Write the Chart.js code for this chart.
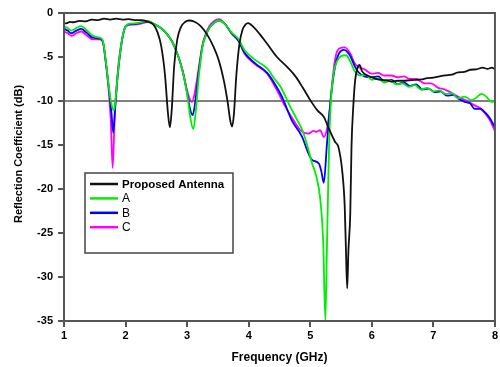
<!DOCTYPE html>
<html>
<head>
<meta charset="utf-8">
<script src="https://cdn.jsdelivr.net/npm/chart.js@4"></script>
<style>
  html, body { margin: 0; padding: 0; background: #fff; }
  canvas { display: block; }
</style>
</head>
<body>
<canvas id="s11" width="500" height="367"></canvas>
<script>
// series data: frequency (GHz) and reflection coefficient (dB)
var propFreq = [1.00, 1.05, 1.10, 1.15, 1.25, 1.35, 1.45, 1.55, 1.65, 1.75, 1.85, 1.95, 2.05, 2.15, 2.25, 2.35, 2.45, 2.52, 2.58, 2.64, 2.69, 2.72, 2.75, 2.79, 2.84, 2.90, 2.97, 3.03, 3.12, 3.22, 3.32, 3.42, 3.52, 3.60, 3.66, 3.70, 3.73, 3.76, 3.80, 3.85, 3.90, 3.95, 3.99, 4.08, 4.18, 4.30, 4.46, 4.62, 4.76, 4.88, 5.00, 5.12, 5.22, 5.30, 5.40, 5.46, 5.52, 5.56, 5.58, 5.60, 5.62, 5.65, 5.67, 5.70, 5.73, 5.77, 5.80, 5.84, 5.90, 6.00, 6.05, 6.15, 6.25, 6.32, 6.42, 6.52, 6.60, 6.70, 6.80, 6.90, 7.00, 7.10, 7.19, 7.30, 7.40, 7.50, 7.60, 7.70, 7.80, 7.88, 7.95, 8.00];
var propS11 = [-1.2, -1.15, -1.0, -1.05, -0.9, -0.95, -0.75, -0.8, -0.65, -0.75, -0.65, -0.75, -0.7, -0.8, -0.8, -0.95, -1.3, -2.2, -3.8, -7.0, -11.5, -13.0, -11.0, -6.0, -3.0, -1.6, -1.0, -0.85, -1.0, -1.5, -2.4, -3.7, -5.5, -7.8, -10.2, -12.2, -12.9, -11.5, -7.0, -3.5, -1.9, -1.3, -1.15, -1.6, -2.4, -3.5, -5.0, -6.1, -7.2, -8.5, -9.9, -11.1, -11.8, -13.1, -14.6, -15.3, -18.0, -22.0, -27.0, -31.3, -27.0, -22.8, -15.2, -10.5, -7.6, -6.2, -5.9, -6.6, -7.0, -7.3, -7.45, -7.6, -7.65, -7.8, -7.7, -7.7, -7.65, -7.6, -7.55, -7.4, -7.35, -7.2, -7.1, -7.0, -6.75, -6.7, -6.45, -6.4, -6.2, -6.35, -6.2, -6.4];

var aFreq = [1.00, 1.06, 1.12, 1.20, 1.28, 1.36, 1.47, 1.58, 1.63, 1.68, 1.73, 1.77, 1.81, 1.84, 1.88, 1.93, 2.00, 2.08, 2.18, 2.28, 2.36, 2.45, 2.55, 2.65, 2.76, 2.85, 2.93, 3.00, 3.05, 3.10, 3.14, 3.19, 3.25, 3.30, 3.36, 3.44, 3.52, 3.62, 3.72, 3.84, 3.93, 4.10, 4.30, 4.42, 4.52, 4.65, 4.79, 4.87, 4.95, 5.03, 5.10, 5.16, 5.21, 5.245, 5.27, 5.29, 5.31, 5.34, 5.38, 5.44, 5.50, 5.58, 5.65, 5.72, 5.81, 5.90, 6.00, 6.10, 6.20, 6.30, 6.40, 6.50, 6.60, 6.70, 6.80, 6.90, 7.00, 7.10, 7.20, 7.30, 7.40, 7.50, 7.62, 7.70, 7.78, 7.86, 7.94, 8.00];
var aS11 = [-1.5, -1.7, -2.0, -1.7, -1.5, -1.9, -2.6, -2.8, -3.1, -5.5, -8.5, -10.3, -11.1, -9.6, -6.5, -3.6, -1.5, -1.2, -1.15, -1.0, -0.9, -1.2, -1.6, -2.2, -3.3, -4.8, -6.7, -9.2, -11.8, -13.2, -11.2, -7.2, -3.8, -2.6, -1.7, -1.1, -0.85, -1.3, -2.2, -3.0, -4.2, -5.3, -6.3, -7.5, -8.4, -10.3, -12.2, -13.3, -15.0, -17.1, -18.6, -21.0, -26.0, -34.9, -27.0, -20.0, -14.0, -9.5, -6.8, -5.4, -4.9, -4.8, -5.5, -6.6, -7.1, -7.0, -7.6, -7.4, -7.9, -7.7, -8.1, -8.0, -8.4, -8.2, -8.7, -8.5, -8.9, -8.8, -9.2, -9.1, -9.7, -9.5, -9.9, -9.6, -9.2, -9.5, -10.1, -10.0];

var bFreq = [1.00, 1.06, 1.12, 1.20, 1.28, 1.36, 1.47, 1.58, 1.63, 1.68, 1.73, 1.77, 1.80, 1.83, 1.87, 1.93, 2.00, 2.08, 2.18, 2.28, 2.36, 2.45, 2.55, 2.65, 2.76, 2.85, 2.93, 3.00, 3.05, 3.09, 3.13, 3.19, 3.25, 3.30, 3.36, 3.44, 3.52, 3.62, 3.72, 3.84, 3.93, 4.10, 4.30, 4.42, 4.54, 4.70, 4.87, 4.95, 5.03, 5.14, 5.18, 5.22, 5.27, 5.33, 5.40, 5.46, 5.55, 5.65, 5.72, 5.78, 5.88, 6.00, 6.10, 6.20, 6.32, 6.42, 6.52, 6.62, 6.72, 6.82, 6.92, 7.02, 7.12, 7.22, 7.32, 7.42, 7.51, 7.60, 7.67, 7.76, 7.84, 7.92, 8.00];
var bS11 = [-1.8, -2.0, -2.3, -2.0, -1.8, -2.2, -2.8, -2.9, -3.2, -5.6, -8.6, -11.3, -13.6, -10.8, -7.3, -3.7, -1.5, -1.25, -1.2, -1.05, -0.95, -1.2, -1.6, -2.2, -3.3, -4.8, -6.7, -9.1, -11.0, -11.6, -10.2, -6.6, -3.7, -2.6, -1.7, -1.1, -0.85, -1.3, -2.3, -3.2, -4.5, -5.7, -6.8, -8.0, -9.5, -12.2, -14.1, -15.6, -16.7, -17.1, -18.0, -19.3, -15.0, -9.9, -6.2, -4.7, -4.2, -4.9, -6.0, -6.7, -7.2, -7.3, -7.2, -7.7, -7.6, -8.1, -7.9, -8.3, -8.1, -8.7, -8.6, -9.0, -8.9, -9.4, -9.3, -9.8, -10.1, -10.3, -10.9, -10.9, -11.3, -12.0, -13.0];

var cFreq = [1.00, 1.06, 1.12, 1.20, 1.28, 1.36, 1.47, 1.58, 1.63, 1.68, 1.72, 1.76, 1.79, 1.82, 1.86, 1.92, 2.00, 2.08, 2.18, 2.28, 2.36, 2.45, 2.55, 2.65, 2.76, 2.85, 2.93, 3.00, 3.05, 3.08, 3.12, 3.19, 3.25, 3.30, 3.36, 3.44, 3.52, 3.62, 3.72, 3.84, 3.93, 4.10, 4.30, 4.46, 4.60, 4.73, 4.85, 4.97, 5.05, 5.10, 5.16, 5.22, 5.27, 5.32, 5.37, 5.42, 5.48, 5.56, 5.65, 5.72, 5.78, 5.88, 6.00, 6.10, 6.20, 6.32, 6.42, 6.52, 6.62, 6.72, 6.86, 6.96, 7.08, 7.19, 7.30, 7.45, 7.55, 7.67, 7.76, 7.84, 7.92, 8.00];
var cS11 = [-2.1, -2.3, -2.6, -2.3, -2.1, -2.5, -3.0, -3.0, -3.3, -5.7, -8.4, -12.2, -17.6, -12.5, -7.8, -3.9, -1.6, -1.35, -1.3, -1.15, -1.0, -1.25, -1.6, -2.2, -3.3, -4.8, -6.6, -8.8, -9.9, -10.1, -9.2, -6.2, -3.6, -2.4, -1.5, -0.9, -0.7, -1.3, -2.3, -3.2, -4.6, -5.8, -6.9, -8.8, -10.7, -12.2, -13.4, -13.7, -13.4, -13.5, -13.3, -14.1, -13.2, -10.8, -7.0, -4.7, -4.0, -3.9, -4.6, -5.7, -6.1, -6.4, -6.9, -6.8, -7.1, -7.1, -7.3, -7.2, -7.5, -7.5, -8.0, -8.0, -8.5, -8.7, -9.1, -9.7, -10.0, -10.5, -10.8, -11.4, -12.2, -13.4];

var seriesNames = ["Proposed Antenna", "A", "B", "C"];
var seriesColors = ["#111111", "#00ee00", "#0000ff", "#ff00ff"];
var refLevel = -10;
var xTicks = [1, 2, 3, 4, 5, 6, 7, 8];
var yTicks = [0, -5, -10, -15, -20, -25, -30, -35];

function toPoints(xs, ys) {
    var pts = [];
    for (var i = 0; i < xs.length; i++) {
        pts.push({ x: xs[i], y: ys[i] });
    }
    return pts;
}

var allFreq = [propFreq, aFreq, bFreq, cFreq];
var allS11 = [propS11, aS11, bS11, cS11];

var datasets = [];
for (var k = 0; k < seriesNames.length; k++) {
    datasets.push({
        label: seriesNames[k],
        data: toPoints(allFreq[k], allS11[k]),
        borderColor: seriesColors[k],
        borderWidth: 1.8,
        pointRadius: 0,
        cubicInterpolationMode: "monotone",
        fill: false
    });
}
// -10 dB reference line
datasets.push({
    label: "ref",
    data: toPoints([xTicks[0], xTicks[xTicks.length - 1]], [refLevel, refLevel]),
    borderColor: "#000",
    borderWidth: 1,
    pointRadius: 0,
    fill: false
});

var FONT = "'Liberation Sans', Arial, sans-serif";

// frame, y title and in-plot legend box
var decor = {
    id: "decor",
    afterDraw: function(chart) {
        var c = chart.ctx, a = chart.chartArea;
        c.save();
        c.strokeStyle = "#555";
        c.lineWidth = 2;
        c.strokeRect(a.left, a.top, a.right - a.left, a.bottom - a.top);

        // y title
        c.fillStyle = "#000";
        c.font = "bold 11px " + FONT;
        c.textAlign = "center";
        c.textBaseline = "middle";
        c.translate(19, 154);
        c.rotate(-Math.PI / 2);
        c.fillText("Reflection Coefficient (dB)", 0, 0);
        c.restore();

        // legend
        c.save();
        c.fillStyle = "#fff";
        c.fillRect(85, 173, 148, 80);
        c.strokeStyle = "#444";
        c.lineWidth = 1.5;
        c.strokeRect(85, 173, 148, 80);
        c.textAlign = "left";
        c.textBaseline = "middle";
        for (var i = 0; i < seriesNames.length; i++) {
            var y = 184 + i * 14.4;
            c.strokeStyle = seriesColors[i];
            c.lineWidth = 2.5;
            c.beginPath();
            c.moveTo(90, y);
            c.lineTo(118, y);
            c.stroke();
            c.fillStyle = "#000";
            c.font = (i === 0 ? "bold 11.5px " : "12px ") + FONT;
            c.fillText(seriesNames[i], 122, y + 0.5);
        }
        c.restore();
    }
};

new Chart(document.getElementById("s11"), {
    type: "line",
    data: { datasets: datasets },
    options: {
        responsive: false,
        animation: false,
        layout: { padding: { top: 13, right: 3, left: 0, bottom: 0 } },
        plugins: {
            legend: { display: false },
            tooltip: { enabled: false }
        },
        scales: {
            x: {
                type: "linear",
                min: xTicks[0],
                max: xTicks[xTicks.length - 1],
                afterBuildTicks: function(s) { s.ticks = xTicks.map(function(v) { return { value: v }; }); },
                afterFit: function(s) { s.height = 46; },
                ticks: { color: "#000", padding: 2, font: { family: FONT, size: 11, weight: "bold" } },
                grid: { drawOnChartArea: false, tickLength: 6, color: "#555", lineWidth: 2 },
                border: { color: "#555", width: 2 },
                title: {
                    display: true,
                    text: "Frequency (GHz)",
                    color: "#000",
                    font: { family: FONT, size: 12, weight: "bold" },
                    padding: { top: 0, bottom: 2 }
                }
            },
            y: {
                type: "linear",
                min: yTicks[yTicks.length - 1],
                max: yTicks[0],
                afterBuildTicks: function(s) { s.ticks = yTicks.map(function(v) { return { value: v }; }); },
                afterFit: function(s) { s.width = 64; },
                ticks: { color: "#000", padding: 5, font: { family: FONT, size: 11, weight: "bold" } },
                grid: { drawOnChartArea: false, tickLength: 6, color: "#555", lineWidth: 2 },
                border: { color: "#555", width: 2 }
            }
        }
    },
    plugins: [decor]
});
</script>
</body>
</html>
